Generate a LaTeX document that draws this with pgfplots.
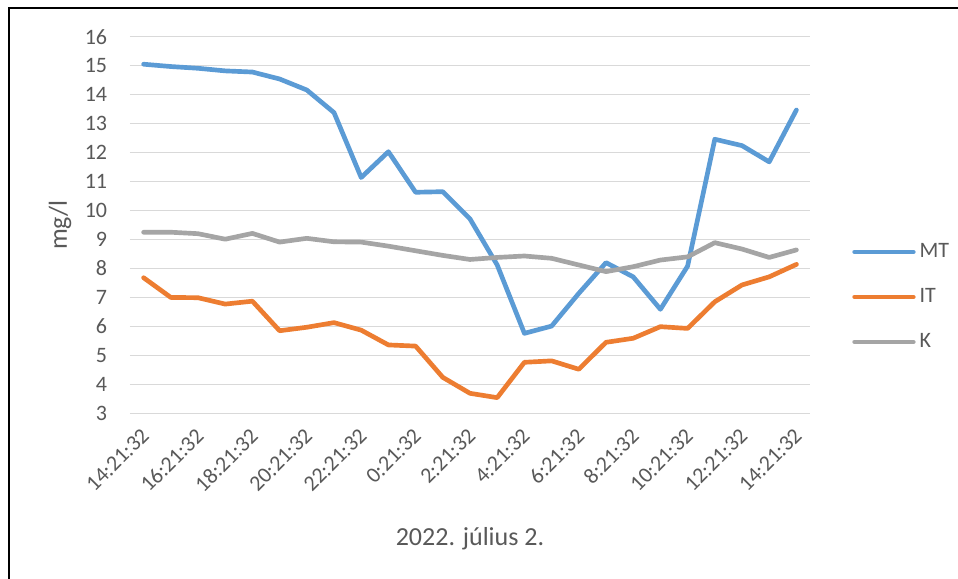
\documentclass[border=0pt]{standalone}
\usepackage{fontspec}
\setmainfont{Carlito}
\usepackage{pgfplots}
\pgfplotsset{compat=1.18}
\definecolor{cMT}{HTML}{5B9BD5}
\definecolor{cIT}{HTML}{ED7D31}
\definecolor{cK}{HTML}{A5A5A5}
\definecolor{gridc}{HTML}{D9D9D9}
\definecolor{txt}{HTML}{595959}
\begin{document}
\begin{tikzpicture}
\useasboundingbox (0,0) rectangle (718.5pt,434.25pt);
\fill[white] (0,0) rectangle (718.5pt,434.25pt);
\draw[line width=1.2pt, black] (6.75pt,-5pt) -- (6.75pt,428.25pt) -- (725pt,428.25pt);
\begin{axis}[
  at={(97.5pt,124.275pt)}, anchor=south west,
  scale only axis, width=510pt, height=282.45pt,
  xmin=-0.5, xmax=24.5, ymin=3, ymax=16,
  axis line style={draw=none},
  tick style={draw=none},
  ytick={3,4,...,16},
  ymajorgrids=true, xmajorgrids=false,
  major grid style={draw=gridc, line width=1.1pt},
  xtick={0,2,...,24},
  xticklabels={14:21:32,16:21:32,18:21:32,20:21:32,22:21:32,0:21:32,2:21:32,4:21:32,6:21:32,8:21:32,10:21:32,12:21:32,14:21:32},
  /pgf/number format/assume math mode=true,
  ticklabel style={font=\fontsize{16.5}{18}\selectfont, text=txt},
  yticklabel style={anchor=east, inner sep=0pt, xshift=-17pt},
  xticklabel style={anchor=east, inner sep=0pt, xshift=1.4pt, yshift=-14pt, rotate=45},
  xlabel={2022. július 2.},
  xlabel style={at={(axis description cs:0.5,0)}, anchor=center, yshift=-93.75pt, font=\fontsize{19.5}{22}\selectfont, text=txt},
  ylabel={mg/l},
  ylabel style={at={(axis description cs:0,0.5)}, anchor=center, yshift=52.5pt, font=\fontsize{19.5}{22}\selectfont, text=txt},
  legend style={at={(axis description cs:1.0618,0.309)}, anchor=west, draw=none, fill=none, inner sep=0pt, row sep=18.75pt,
    nodes={inner sep=0pt, text height=12pt, text depth=3pt, font=\fontsize{16.5}{18}\selectfont, text=txt}},
  legend cell align=left,
  legend image code/.code={\draw[#1, line cap=round] (0pt,0pt) -- (44pt,0pt); \path (47pt,0pt);},
  every axis plot/.append style={line width=3.5pt, line join=round, line cap=round},
]
\addplot[cMT] coordinates {(0,15.05) (1,14.97) (2,14.91) (3,14.82) (4,14.78) (5,14.54) (6,14.16) (7,13.38) (8,11.14) (9,12.03) (10,10.63) (11,10.65) (12,9.71) (13,8.12) (14,5.76) (15,6.01) (16,7.14) (17,8.20) (18,7.71) (19,6.59) (20,8.08) (21,12.46) (22,12.24) (23,11.68) (24,13.47)};
\addlegendentry{MT}
\addplot[cIT] coordinates {(0,7.68) (1,7.00) (2,6.99) (3,6.77) (4,6.87) (5,5.85) (6,5.97) (7,6.13) (8,5.87) (9,5.36) (10,5.32) (11,4.24) (12,3.69) (13,3.54) (14,4.76) (15,4.81) (16,4.52) (17,5.45) (18,5.59) (19,5.99) (20,5.93) (21,6.85) (22,7.43) (23,7.71) (24,8.14)};
\addlegendentry{IT}
\addplot[cK] coordinates {(0,9.25) (1,9.25) (2,9.20) (3,9.01) (4,9.21) (5,8.91) (6,9.04) (7,8.92) (8,8.91) (9,8.77) (10,8.61) (11,8.45) (12,8.31) (13,8.38) (14,8.43) (15,8.35) (16,8.12) (17,7.89) (18,8.06) (19,8.29) (20,8.40) (21,8.89) (22,8.67) (23,8.38) (24,8.64)};
\addlegendentry{K}
\end{axis}
\end{tikzpicture}
\end{document}
